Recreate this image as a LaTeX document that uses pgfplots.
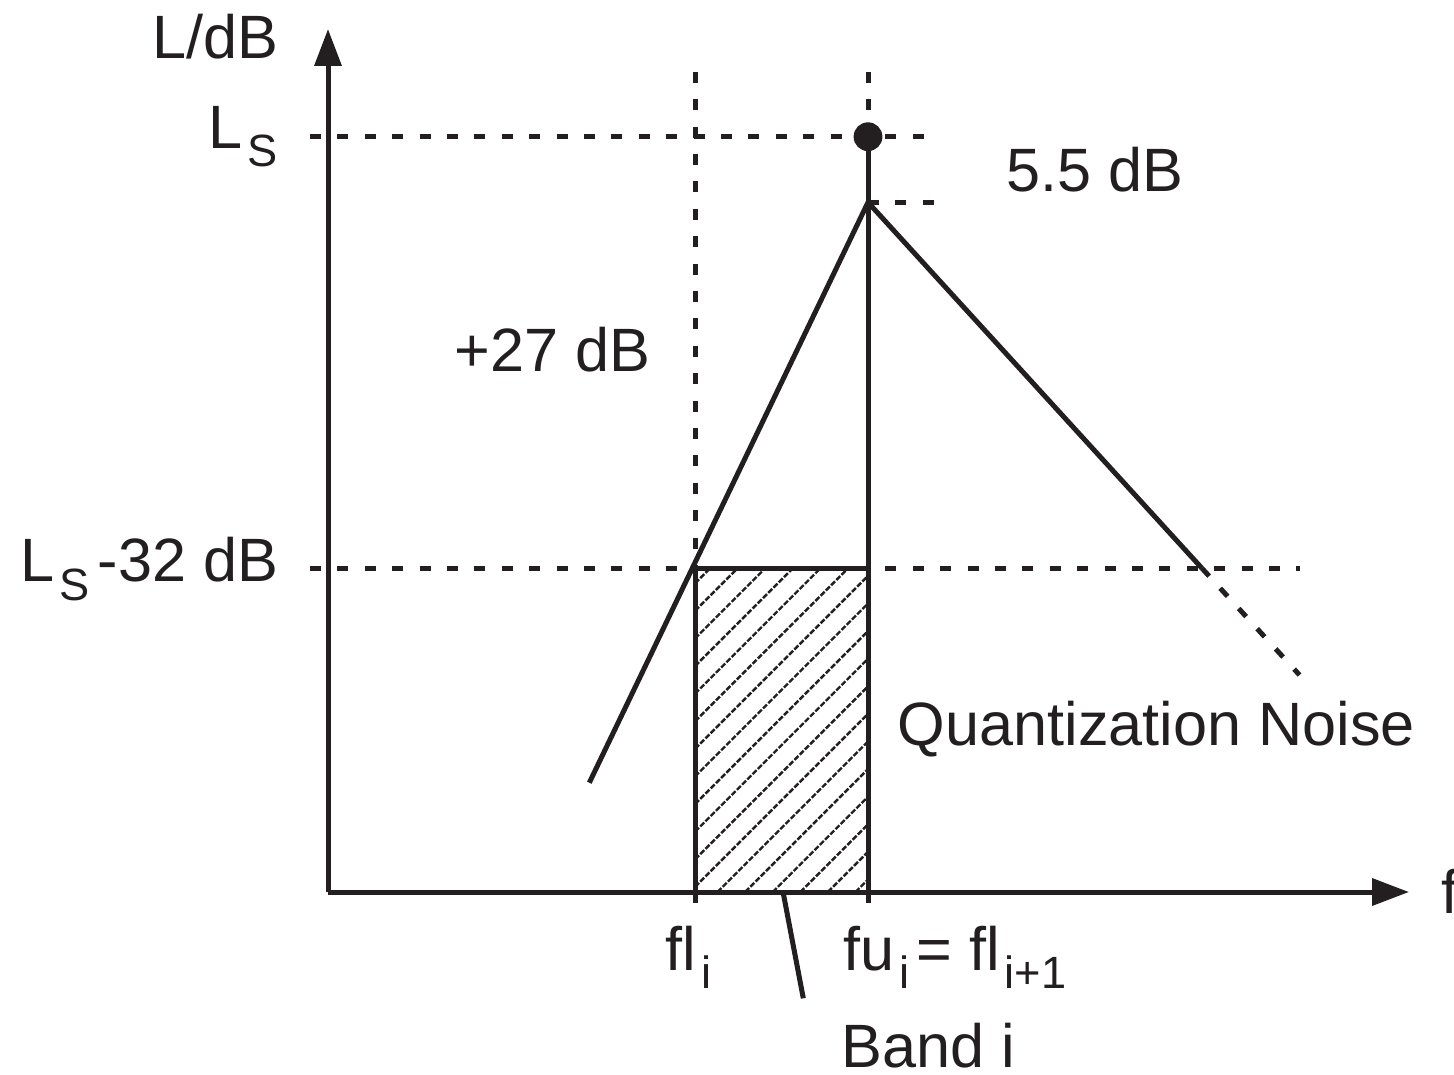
\documentclass[border=0pt]{standalone}
\usepackage{pgfplots}
\pgfplotsset{compat=1.18}
\usepackage{fontspec}
\setmainfont{Liberation Sans}
\usetikzlibrary{arrows.meta}

\definecolor{ink}{RGB}{35,31,32}
% lowered, smaller index text
\newcommand{\sub}[1]{\kern1.2pt\raisebox{-4.6pt}{\fontsize{11.3}{13}\selectfont #1}}

\tikzset{
  lbl/.style={inner sep=0pt, text=ink, font=\fontsize{15.3}{18}\selectfont},
}

\begin{document}
\begin{tikzpicture}
\begin{axis}[
  width=363.5pt, height=268.5pt, scale only axis,
  xmin=0, xmax=1454, ymin=0, ymax=1074,
  hide axis, clip=false,
]
\path (axis cs:0,0) rectangle (axis cs:1454,1074);

% hatched band
\addplot[ink, line width=0.6pt, dash pattern=on 1.4pt off 0.45pt, unbounded coords=jump]
  table[row sep=\\]{
  x y\\
  695 490.7\\ 710.3 506\\ nan nan\\
  695 463.1\\ 737.9 506\\ nan nan\\
  695 435.5\\ 765.5 506\\ nan nan\\
  695 407.9\\ 793.1 506\\ nan nan\\
  695 380.3\\ 820.7 506\\ nan nan\\
  695 352.7\\ 848.3 506\\ nan nan\\
  695 325.1\\ 868 498.1\\ nan nan\\
  695 297.5\\ 868 470.5\\ nan nan\\
  695 269.9\\ 868 442.9\\ nan nan\\
  695 242.3\\ 868 415.3\\ nan nan\\
  695 214.7\\ 868 387.7\\ nan nan\\
  695 187.1\\ 868 360.1\\ nan nan\\
  717.5 182\\ 868 332.5\\ nan nan\\
  745.1 182\\ 868 304.9\\ nan nan\\
  772.7 182\\ 868 277.3\\ nan nan\\
  800.3 182\\ 868 249.7\\ nan nan\\
  827.9 182\\ 868 222.1\\ nan nan\\
  855.5 182\\ 868 194.5\\
  };

% dashed guide lines
\addplot[ink, line width=1.25pt, dash pattern=on 2.75pt off 4.1pt] coordinates {(310,937.3) (925,937.3)};
\addplot[ink, line width=1.25pt, dash pattern=on 2.75pt off 4.1pt] coordinates {(868,871.7) (934,871.7)};
\addplot[ink, line width=1.25pt, dash pattern=on 2.75pt off 4.1pt] coordinates {(695.7,1002.3) (695.7,506)};
\addplot[ink, line width=1.25pt, dash pattern=on 2.75pt off 4.1pt] coordinates {(868,1002.3) (868,937.3)};
\addplot[ink, line width=1.25pt, dash pattern=on 2.75pt off 4.1pt] coordinates {(310,506) (1300,506)};
\addplot[ink, line width=1.25pt, dash pattern=on 2.75pt off 4.1pt] coordinates {(1201.7,506) (1299.5,399)};

% axes
\addplot[ink, line width=1.25pt, -{Triangle[length=9.2pt,width=6.6pt]}] coordinates {(328,182) (328,1045)};
\addplot[ink, line width=1.25pt, -{Triangle[length=9.2pt,width=6.6pt]}] coordinates {(328,182) (1409,182)};

% band edges
\addplot[ink, line width=1.25pt] coordinates {(695,171) (695,506) (868,506)};
\addplot[ink, line width=1.25pt] coordinates {(868,937.3) (868,171)};

% masking slopes
\addplot[ink, line width=1.25pt] coordinates {(589.3,291.3) (868,871.7) (1201.7,506)};

% band pointer
\addplot[ink, line width=1.25pt] coordinates {(783.3,180.7) (803.3,75.7)};

% signal level
\addplot[ink, only marks, mark=*, mark size=3.4pt] coordinates {(868,937.3)};

% labels
\node[lbl, anchor=base east] at (axis cs:279,1015.7) {L/dB};
\node[lbl, anchor=base east] at (axis cs:278,926) {L\sub{S}};
\node[lbl, anchor=base east] at (axis cs:279,492.3) {L\sub{S}\kern2pt-32 dB};
\node[lbl, anchor=base east] at (axis cs:651,702.3) {+27 dB};
\node[lbl, anchor=base west] at (axis cs:1005.7,882.3) {5.5 dB};
\node[lbl, anchor=base west] at (axis cs:897,329) {Quantization Noise};
\node[lbl, anchor=base west] at (axis cs:665,104) {fl\sub{i}};
\node[lbl, anchor=base west] at (axis cs:843,104) {fu\sub{i}\kern1.75pt= fl\sub{i+1}};
\node[lbl, anchor=base west] at (axis cs:840.5,7) {Band i};
\node[lbl, anchor=base west, overlay] at (axis cs:1440.5,161) {f};
\end{axis}
\end{tikzpicture}
\end{document}
